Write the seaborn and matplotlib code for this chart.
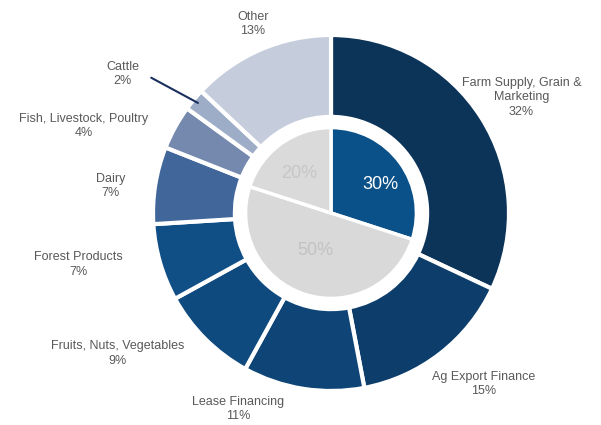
import numpy as np
import matplotlib
matplotlib.use("Agg")
import matplotlib.pyplot as plt
import seaborn as sns

# outer ring: loan portfolio by sector (%)
sectors = ["Farm Supply, Grain &\nMarketing", "Ag Export Finance", "Lease Financing",
           "Fruits, Nuts, Vegetables", "Forest Products", "Dairy",
           "Fish, Livestock, Poultry", "Cattle", "Other"]
shares = [32, 15, 11, 9, 7, 7, 4, 2, 13]

# inner pie
inner_shares = [30, 50, 20]

sns.set_theme(style="white")
plt.rcParams["font.family"] = ["Liberation Sans", "DejaVu Sans"]

outer_colors = ["#0c3358", "#0d3d6a", "#0f4576", "#0f4a7e", "#0f4f86",
                "#41679a", "#7489ad", "#9eadc7", "#c5ccdc"]
inner_colors = ["#0b5189", "#d9d9d9", "#dadada"]
inner_text_colors = ["white", "#c2c2c2", "#c6c6c6"]

# label anchor positions (data units, pie radius = 1)
label_pos = [(1.07, 0.65), (0.86, -0.96), (-0.52, -1.10), (-1.20, -0.79),
             (-1.42, -0.29), (-1.24, 0.15), (-1.39, 0.49), (-1.17, 0.78),
             (-0.44, 1.06)]
inner_label_pos = [(0.28, 0.16), (-0.09, -0.21), (-0.18, 0.22)]

fig = plt.figure(figsize=(6.01, 4.25), dpi=100)
ax = fig.add_axes([0, 0, 1, 1])

wedges, _ = ax.pie(shares, colors=outer_colors, startangle=90, counterclock=False,
                   radius=1.0, wedgeprops=dict(width=0.46, edgecolor="white", linewidth=3))
ax.pie(inner_shares, colors=inner_colors, startangle=90, counterclock=False,
       radius=0.48, wedgeprops=dict(edgecolor="white", linewidth=2.5))

for name, val, (x, y) in zip(sectors, shares, label_pos):
    ax.text(x, y, f"{name}\n{val}%", ha="center", va="center", fontsize=9,
            color="#595959", linespacing=1.25)

for val, (x, y), c in zip(inner_shares, inner_label_pos, inner_text_colors):
    ax.text(x, y, f"{val}%", ha="center", va="center", fontsize=13, color=c)

# leader line for the small Cattle slice
w = wedges[7]
mid = np.deg2rad((w.theta1 + w.theta2) / 2)
ax.plot([-1.01, 0.97 * np.cos(mid)], [0.76, 0.97 * np.sin(mid)],
        color="#1a2f5e", linewidth=1.5)

ax.set_xlim(-331 / 178, (601 - 331) / 178)
ax.set_ylim(-(425 - 213) / 178, 213 / 178)
ax.set_aspect("auto")
ax.axis("off")

fig.savefig("out.png", dpi=100, facecolor="white")
